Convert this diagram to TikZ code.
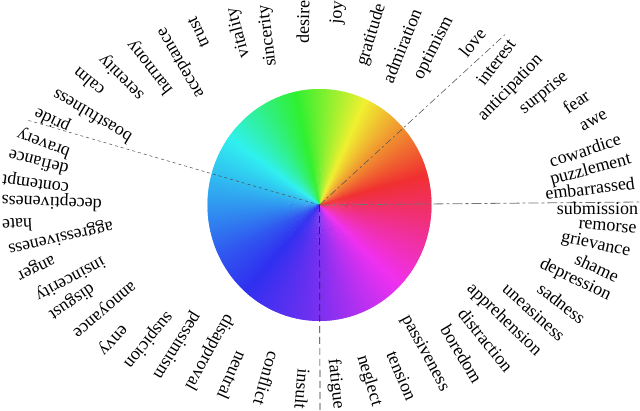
\documentclass[tikz,border=0pt]{standalone}
\usepackage{fontspec}
\setmainfont{Liberation Serif}
\begin{document}
\begin{tikzpicture}[x=1pt,y=1pt,
  lbl/.style={inner sep=0pt, text=black, font=\fontsize{18}{20}\selectfont},
  divA/.style={draw=black!65, line width=0.6pt, dash pattern=on 7pt off 3pt on 2pt off 3pt},
  divB/.style={draw=black!55, line width=0.8pt, dash pattern=on 10pt off 3pt on 3pt off 3pt},
  divC/.style={draw=black!70, line width=0.5pt, dash pattern=on 3pt off 3pt},
  divD/.style={draw=black!85, line width=0.7pt, dash pattern=on 7pt off 4pt}]
\useasboundingbox (0,0) rectangle (640,-411);
% colour wheel
\begin{scope}[shift={(319.5,-205)}]
\foreach \ta/\ha/\tb/\hb in {15/0/41/30, 41/30/65/60, 65/60/102/120, 102/120/144/180, 144/180/206/228, 206/228/265/260, 265/260/315/300, 315/300/375/360}{
  \pgfmathtruncatemacro\tlast{\tb-1}
  \foreach \a in {\ta,...,\tlast}{
    \pgfmathsetmacro\h{mod(\ha+(\a-\ta)*(\hb-\ha)/(\tb-\ta),360)}
    \definecolor{wc}{Hsb}{\h,0.8,0.94}
    \fill[wc] (0,0) -- (\a:112 and 116) arc[start angle=\a, end angle=\a+1.7, x radius=112, y radius=116] -- cycle;
  }
}
\end{scope}
% dividers
\coordinate (C) at (319.5,-205);
\coordinate (E1) at (506.7,-33);
\coordinate (E2) at (640,-202);
\coordinate (E3) at (27,-120);
\coordinate (E4) at (320,-411);
\draw[divA] (C) -- (E1);
\draw[divB] (C) -- (E2);
\draw[divC] (C) -- (E3);
\draw[divD] (C) -- (E4);
% labels
\foreach \n/\x/\y/\r in {
 embarrassed/590/188.3/7, puzzlement/590.7/170/15, cowardice/585/150/18,
 awe/593.7/120.7/30, fear/576/101.7/35, surprise/544/93.3/39,
 anticipation/510.7/88.3/46, interest/495.7/62.3/53, love/472.3/42.3/51,
 optimism/434/48.3/63, admiration/401.7/45.7/68, gratitude/371.7/35/73,
 joy/338/12.5/85, desire/303/21.5/89, sincerity/268/35.7/97,
 vitality/238.5/33/105, trust/198.3/32.3/115, acceptance/181.7/62.3/120,
 harmony/150/67.3/128, serenity/121.7/76.7/135, calm/88.3/82.3/140,
 boastfulness/91.7/116.7/149, pride/52.3/120/155, bravery/43.7/143/160,
 defiance/38.3/163.3/166, contempt/35.7/182.3/172, deceptiveness/51.7/201.7/178,
 hate/17.3/225/183, aggressiveness/60.7/237.3/193, anger/35.7/266.7/206,
 insincerity/70/278.3/208, disgust/71.7/301.7/214, annoyance/103.3/308.3/220,
 envy/111.7/339/227, suspicion/148.3/340/231, pessimism/176.7/345.7/238,
 disapproval/209/352.3/241, neutral/232.3/375.7/246, conflict/266.7/378.3/254,
 insult/302.3/389/265, fatigue/335.7/384/276, neglect/369/380.7/287,
 tension/401.7/375.7/293, passiveness/425/353.3/298, boredom/461.7/354/301,
 distraction/485.7/340/309, apprehension/504/320/316, uneasiness/534/312.3/318,
 sadness/561.7/303.3/322, depression/575.3/280/334, shame/597/267.3/335,
 grievance/595.7/245/348, remorse/607.5/226.7/355, submission/597.5/208/0}{
  \node[lbl, rotate=\r] (\n) at (\x,-\y) {\n};
}
\end{tikzpicture}
\end{document}
